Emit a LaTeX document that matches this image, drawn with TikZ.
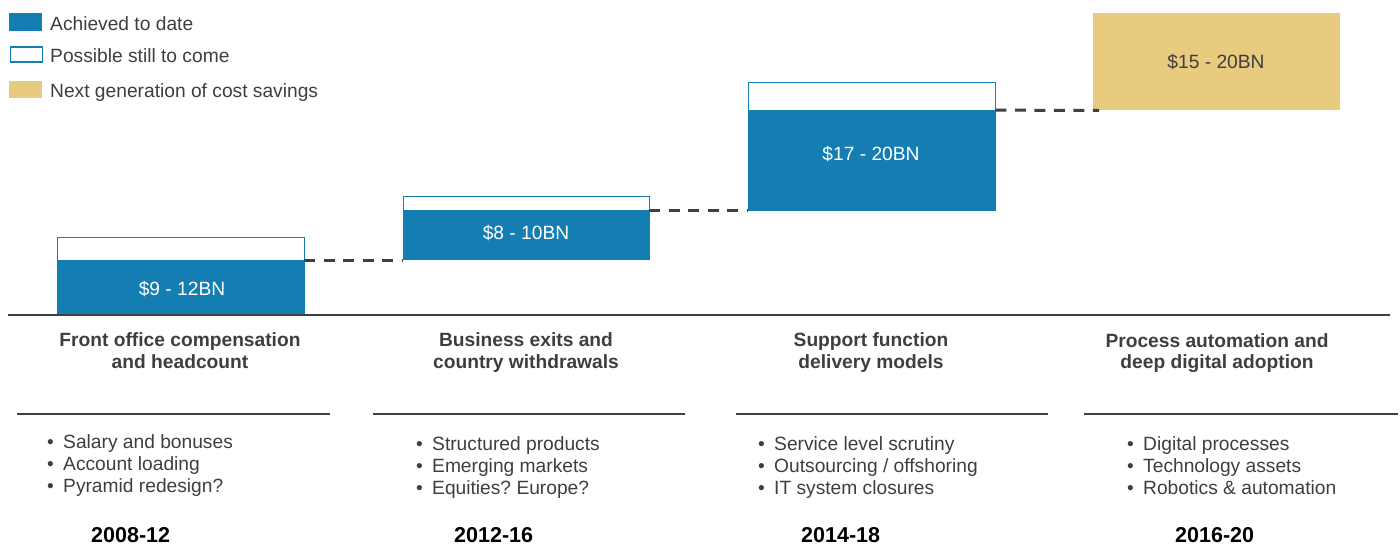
\documentclass[tikz,border=0pt]{standalone}
\usepackage{fontspec}
\setmainfont{Liberation Sans}
\definecolor{barblue}{RGB}{20,125,178}
\definecolor{gold}{RGB}{232,203,126}
\definecolor{txt}{RGB}{62,62,62}
\definecolor{rulec}{RGB}{64,64,64}
\frenchspacing
\begin{document}
\begin{tikzpicture}[x=1pt,y=-1pt,
  reg/.style={font=\fontsize{19.2}{22}\selectfont, text=txt, inner sep=0pt, anchor=base west},
  head/.style={font=\bfseries\fontsize{19.2}{22}\selectfont, text=txt, inner sep=0pt, anchor=base},
  year/.style={font=\bfseries\fontsize{21.5}{24}\selectfont, text=black, inner sep=0pt, anchor=base west},
  barlabel/.style={font=\fontsize{19.2}{22}\selectfont, text=white, inner sep=0pt, anchor=base},
  achieved/.style={fill=barblue, draw=none, inner sep=0pt, anchor=south west},
  possible/.style={fill=white, draw=barblue, line width=1.2pt, inner sep=0pt, anchor=south west},
  nextgen/.style={fill=gold, draw=none, inner sep=0pt, anchor=south west},
  dashline/.style={draw=rulec, line width=3pt, dash pattern=on 11pt off 8.5pt},
  rulebar/.style={draw=rulec, line width=2pt},
  bul/.style={reg}
]
\useasboundingbox (0,0) rectangle (1400,544);

% legend
\node[achieved, minimum width=33pt, minimum height=18pt] (lg1) at (9,31) {};
\node[possible, minimum width=32pt, minimum height=15pt] (lg2) at (9.5,62.5) {};
\node[nextgen, minimum width=33pt, minimum height=17pt] (lg3) at (9,98) {};
\node[reg] (lt1) at (50,30) {Achieved to date};
\node[reg] (lt2) at (50,62) {Possible still to come};
\node[reg] (lt3) at (50,97.5) {Next generation of cost savings};

% bars
\node[possible, minimum width=247pt, minimum height=77pt] (p1) at (57,315) {};
\node[achieved, minimum width=247pt, minimum height=55pt] (b1) at (57,315) {};
\node[possible, minimum width=246pt, minimum height=63pt] (p2) at (403,260) {};
\node[achieved, minimum width=246pt, minimum height=50pt] (b2) at (403,260) {};
\node[possible, minimum width=247pt, minimum height=128pt] (p3) at (748,211) {};
\node[achieved, minimum width=247pt, minimum height=101pt] (b3) at (748,211) {};
\node[nextgen, minimum width=247pt, minimum height=97pt] (g4) at (1093,110) {};

\node[barlabel] (bl1) at (182,295) {\$9 - 12BN};
\node[barlabel] (bl2) at (526,239) {\$8 - 10BN};
\node[barlabel] (bl3) at (871,160) {\$17 - 20BN};
\node[barlabel, text=txt] (bl4) at (1216,68) {\$15 - 20BN};

% dashed connectors
\coordinate (d3end) at (1099,110.5);
\draw[dashline] ([yshift=-0.5pt]b1.north east) -- ([yshift=-0.5pt]b1.north east -| b2.west);
\draw[dashline] ([yshift=-0.5pt]b2.north east) -- ([yshift=-0.5pt]b2.north east -| b3.west);
\draw[dashline] ([yshift=-0.5pt]b3.north east) -- (d3end);

% baseline
\draw[rulebar] (8,315) -- (1390,315);

% headings
\node[head] (h1a) at (180,346) {Front office compensation};
\node[head] (h1b) at (180,368) {and headcount};
\node[head] (h2a) at (526,346) {Business exits and};
\node[head] (h2b) at (526,368) {country withdrawals};
\node[head] (h3a) at (871,346) {Support function};
\node[head] (h3b) at (871,368) {delivery models};
\node[head] (h4a) at (1217,347) {Process automation and};
\node[head] (h4b) at (1217,368) {deep digital adoption};

% rules under headings
\draw[rulebar] (17,414) -- (330,414);
\draw[rulebar] (373,414) -- (685,414);
\draw[rulebar] (736,414) -- (1048,414);
\draw[rulebar] (1084,414) -- (1398,414);

% bullets
\node[bul] (c1a) at (47,448) {\makebox[16pt][l]{•}Salary and bonuses};
\node[bul] (c1b) at (47,470) {\makebox[16pt][l]{•}Account loading};
\node[bul] (c1c) at (47,492) {\makebox[16pt][l]{•}Pyramid redesign?};
\node[bul] (c2a) at (416,450) {\makebox[16pt][l]{•}Structured products};
\node[bul] (c2b) at (416,472) {\makebox[16pt][l]{•}Emerging markets};
\node[bul] (c2c) at (416,494) {\makebox[16pt][l]{•}Equities? Europe?};
\node[bul] (c3a) at (758,450) {\makebox[16pt][l]{•}Service level scrutiny};
\node[bul] (c3b) at (758,472) {\makebox[16pt][l]{•}Outsourcing / offshoring};
\node[bul] (c3c) at (758,494) {\makebox[16pt][l]{•}IT system closures};
\node[bul] (c4a) at (1127,450) {\makebox[16pt][l]{•}Digital processes};
\node[bul] (c4b) at (1127,472) {\makebox[16pt][l]{•}Technology assets};
\node[bul] (c4c) at (1127,494) {\makebox[16pt][l]{•}Robotics \& automation};

% years
\node[year] (y1) at (91,542) {2008-12};
\node[year] (y2) at (454,542) {2012-16};
\node[year] (y3) at (801,542) {2014-18};
\node[year] (y4) at (1175,542) {2016-20};
\end{tikzpicture}
\end{document}
